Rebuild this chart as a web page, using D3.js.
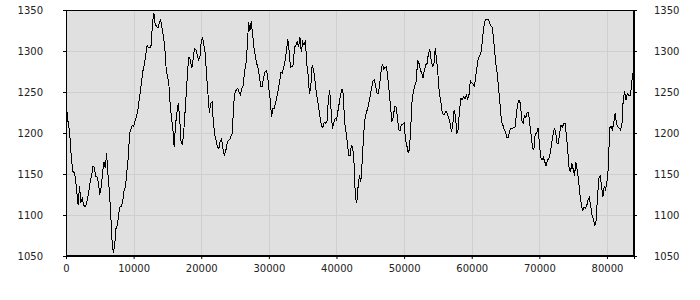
<!DOCTYPE html>
<html>
<head>
<meta charset="utf-8">
<script src="https://cdn.jsdelivr.net/npm/d3@7"></script>
<style>
  body { margin: 0; background: #fff; }
  text { font-family: "DejaVu Sans", Verdana, sans-serif; font-size: 10px; fill: #222; }
</style>
</head>
<body>
<script>
// x spacing between samples
let xStep = 200;

// values, split in parts
let part1 = [1250, 1218, 1210, 1193, 1169, 1153, 1152, 1145, 1128, 1112, 1135, 1115, 1120, 1112, 1110, 1113,
  1120, 1130, 1142, 1148, 1160, 1158, 1147, 1146, 1139, 1125, 1134, 1150, 1165, 1157, 1175, 1150, 1130, 1104,
  1070, 1054, 1063, 1084, 1088, 1102, 1110, 1111, 1118, 1130, 1135, 1153, 1169, 1199, 1204, 1209, 1208, 1214,
  1220, 1226, 1239, 1251, 1264, 1277, 1284, 1296, 1307, 1304, 1304, 1307, 1336, 1346];
let part2 = [1332, 1330, 1328, 1334, 1338, 1328, 1318, 1305, 1280, 1269, 1261, 1235, 1218, 1205, 1183, 1210,
  1225, 1236, 1220, 1190, 1185, 1200, 1225, 1250, 1278, 1293, 1289, 1279, 1290, 1303, 1302, 1295, 1289, 1292,
  1312, 1316, 1307, 1296, 1270, 1247, 1225, 1236, 1238, 1212, 1198, 1191, 1182, 1181, 1190, 1193, 1181, 1173,
  1177, 1186, 1191, 1192, 1196, 1200, 1236, 1249, 1253, 1254, 1250, 1247, 1254, 1258, 1275, 1283, 1305, 1335, 1325];
let part3 = [1336, 1320, 1304, 1294, 1285, 1279, 1269, 1257, 1257, 1266, 1274, 1276, 1272, 1254, 1241, 1220,
  1230, 1230, 1237, 1245, 1253, 1263, 1274, 1273, 1280, 1288, 1300, 1314, 1300, 1280, 1281, 1283, 1305, 1307,
  1311, 1305, 1317, 1299, 1311, 1307, 1313, 1285, 1271, 1248, 1256, 1283, 1277, 1266, 1250, 1240, 1229, 1218,
  1208, 1207, 1213, 1212, 1215, 1240, 1252, 1228, 1205, 1212, 1218, 1216, 1226, 1236, 1246, 1254, 1248, 1214];
let part4 = [1202, 1189, 1173, 1172, 1185, 1183, 1163, 1120, 1115, 1135, 1149, 1140, 1165, 1196, 1216, 1224,
  1230, 1237, 1246, 1255, 1263, 1265, 1256, 1249, 1248, 1260, 1276, 1284, 1278, 1280, 1281, 1266, 1250, 1231,
  1214, 1219, 1232, 1232, 1221, 1204, 1203, 1210, 1211, 1212, 1192, 1185, 1176, 1180, 1210, 1242, 1252, 1258,
  1263, 1289, 1285, 1277, 1273, 1267, 1277, 1283, 1285, 1297, 1302, 1289, 1281, 1283, 1303, 1290, 1272, 1250];
let part5 = [1240, 1227, 1222, 1223, 1227, 1223, 1219, 1212, 1201, 1210, 1228, 1221, 1199, 1205, 1228, 1242,
  1241, 1244, 1242, 1246, 1242, 1247, 1264, 1261, 1260, 1257, 1270, 1282, 1292, 1294, 1299, 1315, 1330, 1338,
  1339, 1339, 1336, 1331, 1329, 1318, 1299, 1283, 1270, 1252, 1234, 1214, 1210, 1204, 1201, 1194, 1194, 1203,
  1206, 1205, 1207, 1207, 1222, 1236, 1240, 1236, 1215, 1212, 1221, 1219, 1225, 1225, 1210, 1197, 1181, 1180];
let part6 = [1200, 1200, 1206, 1188, 1170, 1167, 1170, 1165, 1160, 1167, 1169, 1175, 1186, 1196, 1205, 1202,
  1188, 1187, 1200, 1209, 1207, 1211, 1212, 1197, 1179, 1158, 1152, 1163, 1156, 1148, 1164, 1155, 1143, 1125,
  1114, 1105, 1110, 1108, 1111, 1118, 1121, 1111, 1100, 1094, 1087, 1093, 1122, 1145, 1147, 1135, 1122, 1135,
  1131, 1141, 1157, 1206, 1208, 1204, 1212, 1224, 1212, 1208, 1206, 1204, 1208, 1240, 1251, 1240, 1248, 1246,
  1245, 1255, 1272, 1277];

// axis ticks
let xTicks = [0, 10000, 20000, 30000, 40000, 50000, 60000, 70000, 80000];
let yTicks = [1050, 1100, 1150, 1200, 1250, 1300, 1350];

let values = part1.concat(part2, part3, part4, part5, part6);
let dataset = values.map(function(v, i) { return { x: i * xStep, y: v }; });

let width = 700;
let height = 300;
let plotLeft = 66, plotRight = 634, plotTop = 10, plotBottom = 256;

let svg = d3.select("body").append("svg").attr("width", width).attr("height", height);

let xScale = d3.scaleLinear()
  .domain([0, 84000])
  .range([plotLeft, plotRight]);

let yScale = d3.scaleLinear()
  .domain([1050, 1350])
  .range([plotBottom, plotTop]);

// background
svg.append("rect")
  .attr("x", plotLeft).attr("y", plotTop)
  .attr("width", plotRight - plotLeft).attr("height", plotBottom - plotTop)
  .attr("fill", "#e0e0e0");

// grid lines
svg.append("g").selectAll("line")
  .data(xTicks)
  .enter()
  .append("line")
  .attr("x1", function(d) { return Math.round(xScale(d)) + 0.5; })
  .attr("x2", function(d) { return Math.round(xScale(d)) + 0.5; })
  .attr("y1", plotTop).attr("y2", plotBottom)
  .attr("stroke", "#cfcfcf");

svg.append("g").selectAll("line")
  .data(yTicks)
  .enter()
  .append("line")
  .attr("y1", function(d) { return Math.round(yScale(d)) + 0.5; })
  .attr("y2", function(d) { return Math.round(yScale(d)) + 0.5; })
  .attr("x1", plotLeft).attr("x2", plotRight)
  .attr("stroke", "#cfcfcf");

// the line
let line = d3.line()
  .x(function(d) { return xScale(d.x); })
  .y(function(d) { return yScale(d.y); });

svg.append("path")
  .datum(dataset)
  .attr("d", line)
  .attr("fill", "none")
  .attr("stroke", "#000")
  .attr("stroke-width", 1)
  .attr("shape-rendering", "crispEdges");

// axes
let xAxis = d3.axisBottom(xScale).tickValues(xTicks).tickSize(3).tickPadding(6).tickFormat(d3.format("d"));
let yLeft = d3.axisLeft(yScale).tickValues(yTicks).tickSize(3).tickPadding(20).tickFormat(d3.format("d"));
let yRight = d3.axisRight(yScale).tickValues(yTicks).tickSize(3).tickPadding(17).tickFormat(d3.format("d"));

svg.append("g")
  .attr("transform", "translate(0," + plotBottom + ")")
  .call(xAxis);
svg.append("g")
  .attr("transform", "translate(" + plotLeft + ",0)")
  .call(yLeft);
svg.append("g")
  .attr("transform", "translate(" + plotRight + ",0)")
  .call(yRight);

svg.selectAll(".domain, .tick line").attr("stroke", "#000");
svg.selectAll(".tick text").attr("fill", "#222").style("font-size", "10px")
  .style("font-family", "'DejaVu Sans', Verdana, sans-serif");

// frame
svg.append("rect")
  .attr("x", plotLeft + 0.5).attr("y", plotTop + 0.5)
  .attr("width", plotRight - plotLeft - 1).attr("height", plotBottom - plotTop - 1)
  .attr("fill", "none")
  .attr("stroke", "#000");
</script>
</body>
</html>
